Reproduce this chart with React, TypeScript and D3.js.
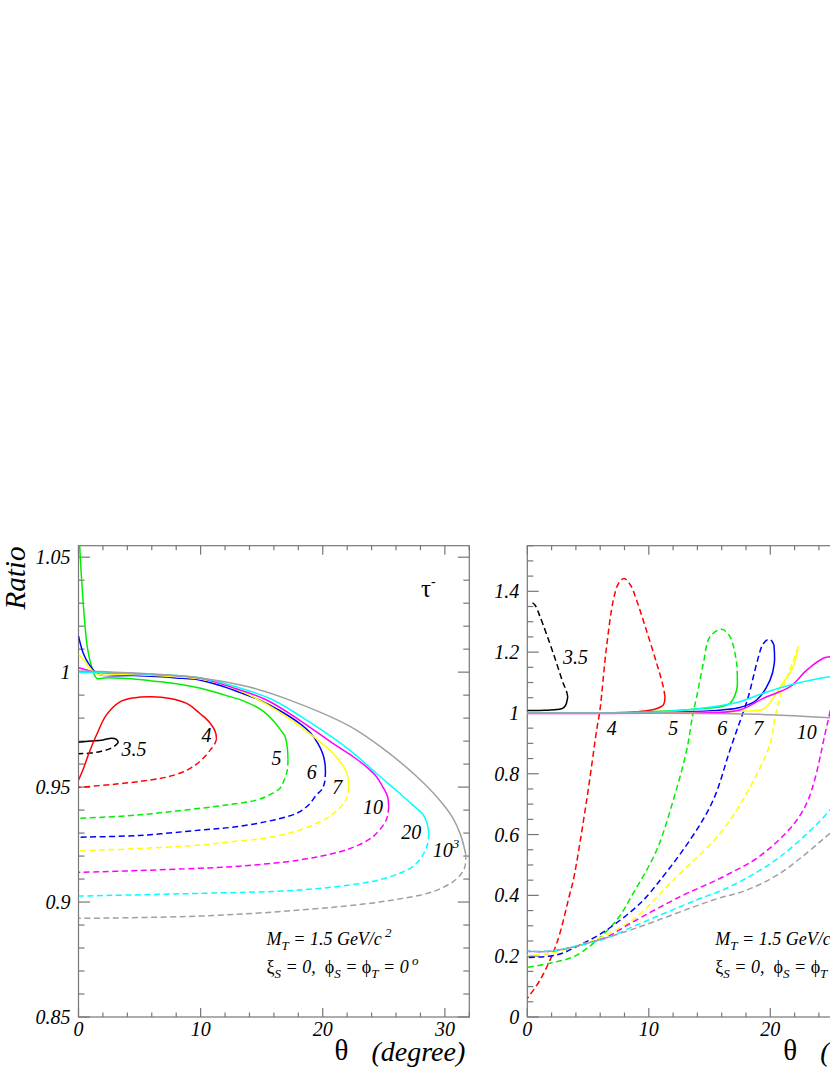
import React, { useEffect, useRef } from "react";
import * as d3 from "d3";

type Pt = [number, number];

// curve styles, in order 3.5, 4, 5, 6, 7, 10, 20, 10^3 (GeV)
const curveColors = ["#000000", "#ff0000", "#00ee00", "#0000ff", "#ffff00", "#ff00ff", "#00ffff", "#a0a0a0"];

// ---- left panel (tau-) : solid upper branch, dashed lower branch ----
const leftSolid35: Pt[] = [[0, 0.9695], [1, 0.970], [2, 0.9705], [2.7, 0.9713], [3.1, 0.9708], [3.27, 0.9695]];
const leftDash35: Pt[] = [[3.27, 0.9695], [3.0, 0.968], [2.5, 0.9665], [1.8, 0.9655], [1, 0.9648], [0, 0.9645]];
const leftSolid4: Pt[] = [[0, 0.9531], [0.4, 0.958], [0.8, 0.964], [1.5, 0.973], [2.3, 0.9815], [3.4, 0.9871], [4.5, 0.9888], [6, 0.9893], [7.5, 0.9885], [8.85, 0.9864], [9.4, 0.9845], [9.94, 0.982], [10.39, 0.980], [10.75, 0.978], [11.07, 0.9755], [11.24, 0.9734], [11.3, 0.971]];
const leftDash4: Pt[] = [[11.3, 0.971], [11.2, 0.9693], [11.02, 0.9676], [10.8, 0.9662], [10.5, 0.9642], [9.6, 0.9597], [8.6, 0.9567], [7.2, 0.9543], [5.85, 0.9531], [3.1, 0.9513], [0, 0.9499]];
const leftSolid5: Pt[] = [[0, 1.075], [0.1, 1.055], [0.26, 1.04], [0.45, 1.0256], [0.72, 1.011], [1.08, 1.0024], [1.5, 0.9973], [2.3, 0.9976], [4, 0.9972], [6, 0.9962], [8, 0.995], [10, 0.993], [12, 0.990], [13.5, 0.9875], [15, 0.9835], [15.9, 0.9792], [16.5, 0.9752], [16.9, 0.9722], [17.1, 0.967], [17.15, 0.962]];
const leftDash5: Pt[] = [[17.15, 0.962], [17.1, 0.9574], [16.8, 0.9525], [16.5, 0.9495], [15.6, 0.9465], [14.6, 0.9444], [12.5, 0.9425], [10, 0.9408], [7, 0.939], [4, 0.9375], [0, 0.9364]];
const leftSolid6: Pt[] = [[0, 1.0157], [0.39, 1.0082], [0.8, 1.0039], [1.35, 1.0002], [1.76, 0.9988], [4.5, 0.9985], [8, 0.9975], [10, 0.9965], [12, 0.9935], [13.2, 0.9912], [14.8, 0.9879], [16.5, 0.9832], [18.1, 0.9777], [19.0, 0.9735], [19.6, 0.969], [20.0, 0.9645], [20.18, 0.9604], [20.22, 0.957]];
const leftDash6: Pt[] = [[20.22, 0.957], [20.15, 0.952], [19.9, 0.9488], [19.48, 0.9466], [18.8, 0.942], [17.85, 0.9386], [15.4, 0.935], [12.5, 0.9325], [10, 0.9313], [5, 0.929], [0, 0.9282]];
const leftSolid7: Pt[] = [[0, 1.0079], [0.53, 1.0045], [1.08, 1.0009], [1.6, 0.999], [4, 0.999], [8, 0.998], [10, 0.997], [12, 0.9945], [14, 0.990], [16.2, 0.9835], [18.9, 0.9734], [20.83, 0.9647], [21.93, 0.9567], [22.14, 0.9502]];
const leftDash7: Pt[] = [[22.14, 0.9502], [21.9, 0.9444], [21.2, 0.94], [20.3, 0.9364], [18.1, 0.9313], [15.5, 0.928], [12.66, 0.9263], [9.93, 0.9248], [5, 0.9233], [0, 0.9223]];
const leftSolid10: Pt[] = [[0, 1.0019], [0.67, 1.0009], [1.4, 1.0], [4, 0.9995], [7, 0.9988], [10, 0.9973], [12.5, 0.9935], [15.4, 0.9879], [18, 0.9795], [20.83, 0.969], [22.5, 0.9632], [23.56, 0.9589], [24.4, 0.9545], [24.9, 0.9502], [25.3, 0.946], [25.4, 0.9415]];
const leftDash10: Pt[] = [[25.4, 0.9415], [25.2, 0.9357], [24.1, 0.9284], [22.8, 0.9245], [21.4, 0.9219], [18.1, 0.9183], [12.66, 0.9154], [9.93, 0.9147], [5, 0.9137], [0, 0.9129]];
const leftSolid20: Pt[] = [[0, 1.0], [2, 0.9998], [6, 0.999], [10, 0.9975], [13, 0.9935], [15.93, 0.9879], [19, 0.978], [22.2, 0.9661], [24.5, 0.9555], [26.29, 0.9473], [27.3, 0.9425], [28.2, 0.9382], [28.55, 0.934], [28.68, 0.9299]];
const leftDash20: Pt[] = [[28.68, 0.9299], [28.6, 0.9256], [28.2, 0.9205], [27.38, 0.9154], [25.8, 0.9115], [23.56, 0.9085], [18.1, 0.9052], [10, 0.9038], [0, 0.9026]];
const leftSolid1000: Pt[] = [[0, 1.0005], [5, 0.9995], [10, 0.9975], [14, 0.9935], [18.1, 0.9862], [22.2, 0.9765], [25, 0.9665], [27.65, 0.9548], [29.56, 0.9444], [30.6, 0.937], [31.3, 0.929], [31.7, 0.921]];
const leftDash1000: Pt[] = [[31.7, 0.921], [31.65, 0.9155], [31.3, 0.912], [30.65, 0.9088], [29.0, 0.9045], [24.9, 0.9002], [18.1, 0.8965], [9.93, 0.8939], [0, 0.8929]];

// ---- right panel ----
const rightSolid35: Pt[] = [[0, 1.008], [1.5, 1.009], [2.4, 1.011], [2.9, 1.015], [3.15, 1.025], [3.33, 1.053]];
const rightDash35: Pt[] = [[3.33, 1.053], [3.2, 1.075], [2.96, 1.097], [2.14, 1.196], [1.05, 1.3165], [0.63, 1.355], [0.28, 1.366]];
const rightSolid4: Pt[] = [[0, 1.0], [6, 1.0], [8.5, 1.002], [9.6, 1.006], [10.5, 1.012], [11.19, 1.026], [11.33, 1.053]];
const rightDash4: Pt[] = [[11.33, 1.053], [11.19, 1.086], [10.65, 1.163], [9.8, 1.272], [9.0, 1.37], [8.5, 1.42], [7.96, 1.442], [7.5, 1.425], [7.08, 1.371], [6.5, 1.21], [5.98, 1.01], [5.71, 0.944], [4.89, 0.714], [3.79, 0.45], [3.51, 0.407], [2.42, 0.2424], [1.05, 0.1217], [0, 0.0615]];
const rightSolid5: Pt[] = [[0, 1.0], [6, 1.0], [10, 1.004], [13, 1.01], [15, 1.016], [16, 1.021], [16.68, 1.0317], [17.23, 1.0754], [17.28, 1.119]];
const rightDash5: Pt[] = [[17.28, 1.119], [17.23, 1.163], [16.68, 1.251], [16.0, 1.275], [15.04, 1.251], [14.49, 1.163], [13.94, 1.053], [13.6, 0.99], [13.12, 0.878], [12.02, 0.714], [10.65, 0.549], [8.72, 0.407], [7.36, 0.319], [5.43, 0.242], [3.79, 0.198], [1.87, 0.177], [0, 0.163]];
const rightSolid6: Pt[] = [[0, 1.0], [10, 1.001], [14, 1.005], [16, 1.01], [17.5, 1.018], [18.88, 1.0426], [19.98, 1.108], [20.33, 1.163], [20.3, 1.2234]];
const rightDash6: Pt[] = [[20.3, 1.2234], [20.1, 1.238], [19.84, 1.242], [19.5, 1.232], [19.29, 1.218], [18.88, 1.163], [18.19, 1.053], [17.78, 1.004], [16.68, 0.878], [15.31, 0.714], [13.39, 0.582], [9.83, 0.396], [9.0, 0.363], [6.53, 0.286], [4.34, 0.237], [2.42, 0.204], [0, 0.196]];
const rightSolid7: Pt[] = [[0, 1.0], [10, 1.0], [15, 1.002], [18, 1.006], [19.4, 1.012], [20.0, 1.035], [20.82, 1.0863], [21.5, 1.125], [21.89, 1.152], [22.3, 1.218]];
const rightDash7: Pt[] = [[22.3, 1.218], [22.15, 1.2], [21.6, 1.141], [20.8, 1.053], [20.4, 0.987], [19.98, 0.898], [18.06, 0.736], [15.86, 0.604], [12.0, 0.45], [9.0, 0.33], [6.53, 0.27], [4.34, 0.237], [1.87, 0.2095], [0, 0.203]];
const rightSolid10: Pt[] = [[0, 0.998], [10, 0.999], [14, 1.0], [17.5, 1.0097], [19.42, 1.048], [21.62, 1.0863], [23.0, 1.141], [24.36, 1.18], [24.9, 1.185], [25.4, 1.19]];
const rightDash10: Pt[] = [[25.4, 1.1], [24.64, 0.955], [22.72, 0.681], [19.42, 0.538], [16.13, 0.4614], [12.57, 0.3956], [8.48, 0.308], [6.53, 0.263], [4.34, 0.236], [1.87, 0.216], [0, 0.2164]];
const rightSolid20: Pt[] = [[0, 1.0], [5, 1.0], [8.5, 1.001], [11.19, 1.004], [15.31, 1.0205], [17.5, 1.037], [19.42, 1.0646], [22.17, 1.0975], [24.91, 1.119], [25.5, 1.122]];
const rightDash20: Pt[] = [[25.5, 0.72], [24.91, 0.681], [20.8, 0.527], [16.68, 0.4285], [13.94, 0.385], [9.0, 0.3026], [6.53, 0.259], [4.34, 0.236], [1.87, 0.217], [0, 0.2164]];
const rightSolid1000: Pt[] = [[0, 1.0], [10, 0.9995], [17, 0.997], [20, 0.994], [25.5, 0.983]];
const rightDash1000: Pt[] = [[25.5, 0.625], [24.91, 0.604], [20.8, 0.4726], [18.06, 0.4177], [15.31, 0.385], [8.48, 0.286], [4.34, 0.236], [1.87, 0.216], [0, 0.216]];

// curve labels: [theta, ratio] of text baseline start
const massLabels = ["3.5", "4", "5", "6", "7", "10", "20", "10"];
const leftLabelPos: Pt[] = [[3.53, 0.9635], [10.07, 0.9696], [15.8, 0.9596], [18.68, 0.9537], [20.78, 0.947], [23.29, 0.9384], [26.43, 0.9274], [29.0, 0.9196]];
const rightLabelPos: Pt[] = [[2.94, 1.162], [6.53, 0.9265], [11.6, 0.9265], [15.64, 0.9265], [18.6, 0.9265], [22.17, 0.915]];

// axes
const xMajor = [0, 10, 20, 30];
const leftYMajor = [0.85, 0.9, 0.95, 1, 1.05];
const leftYLabels = ["0.85", "0.9", "0.95", "1", "1.05"];
const rightYMajor = [0, 0.2, 0.4, 0.6, 0.8, 1, 1.2, 1.4];
const rightYLabels = ["0", "0.2", "0.4", "0.6", "0.8", "1", "1.2", "1.4"];

const leftCurves = [
  [leftSolid35, leftDash35], [leftSolid4, leftDash4], [leftSolid5, leftDash5], [leftSolid6, leftDash6],
  [leftSolid7, leftDash7], [leftSolid10, leftDash10], [leftSolid20, leftDash20], [leftSolid1000, leftDash1000],
];
const rightCurves = [
  [rightSolid35, rightDash35], [rightSolid4, rightDash4], [rightSolid5, rightDash5], [rightSolid6, rightDash6],
  [rightSolid7, rightDash7], [rightSolid10, rightDash10], [rightSolid20, rightDash20], [rightSolid1000, rightDash1000],
];

const FONT = "'Liberation Serif', 'Times New Roman', serif";
const AXIS = "#777";
const NB = "\u00a0";

export default function App() {
  const ref = useRef<SVGSVGElement>(null);

  useEffect(() => {
    const svg = d3.select(ref.current);
    svg.selectAll("*").remove();

    const top = 545.7;
    const bottom = 1017;

    const drawPanel = (opts: any) => {
      const { x0, x1, yDomain, yMajor, yLabels, yMinorStep, curves, labelPos, id } = opts;
      const x = d3.scaleLinear().domain([0, 32]).range([x0, x1]);
      const y = d3.scaleLinear().domain(yDomain).range([bottom, top]);
      const g = svg.append("g");

      g.append("clipPath").attr("id", id)
        .append("rect").attr("x", x0).attr("y", top).attr("width", x1 - x0).attr("height", bottom - top);

      // frame
      g.append("rect")
        .attr("x", x0).attr("y", top).attr("width", x1 - x0).attr("height", bottom - top)
        .attr("fill", "none").attr("stroke", AXIS).attr("stroke-width", 1.2);

      const isMajor = (v: number, list: number[]) => list.some(m => Math.abs(m - v) < 1e-6);

      // x ticks, bottom and top
      d3.range(0, 32.001, 2).forEach(v => {
        const len = isMajor(v, xMajor) ? 9 : 4.5;
        g.append("line").attr("x1", x(v)).attr("x2", x(v)).attr("y1", bottom).attr("y2", bottom - len)
          .attr("stroke", AXIS).attr("stroke-width", 1.2);
        g.append("line").attr("x1", x(v)).attr("x2", x(v)).attr("y1", top).attr("y2", top + len)
          .attr("stroke", AXIS).attr("stroke-width", 1.2);
      });
      // y ticks, left and right
      d3.range(yDomain[0], yDomain[1] + 1e-6, yMinorStep).forEach(v => {
        const len = isMajor(v, yMajor) ? 11.5 : 6;
        g.append("line").attr("x1", x0).attr("x2", x0 + len).attr("y1", y(v)).attr("y2", y(v))
          .attr("stroke", AXIS).attr("stroke-width", 1.2);
        g.append("line").attr("x1", x1).attr("x2", x1 - len).attr("y1", y(v)).attr("y2", y(v))
          .attr("stroke", AXIS).attr("stroke-width", 1.2);
      });

      // tick labels
      xMajor.forEach(v => {
        g.append("text").attr("x", x(v)).attr("y", bottom + 19)
          .attr("text-anchor", "middle").attr("font-family", FONT).attr("font-style", "italic")
          .attr("font-size", 20).text(v);
      });
      yMajor.forEach((v: number, i: number) => {
        g.append("text").attr("x", x0 - 8).attr("y", y(v) + 7)
          .attr("text-anchor", "end").attr("font-family", FONT).attr("font-style", "italic")
          .attr("font-size", 20).text(yLabels[i]);
      });

      // curves
      const line = d3.line<Pt>().x(d => x(d[0])).y(d => y(d[1])).curve(d3.curveCatmullRom.alpha(0.5));
      const cg = g.append("g").attr("clip-path", `url(#${id})`);
      curves.forEach((c: Pt[][], i: number) => {
        cg.append("path").attr("d", line(c[0])).attr("fill", "none")
          .attr("stroke", curveColors[i]).attr("stroke-width", 1.5);
        cg.append("path").attr("d", line(c[1])).attr("fill", "none")
          .attr("stroke", curveColors[i]).attr("stroke-width", 1.5).attr("stroke-dasharray", "6,3.5");
      });

      // curve labels
      labelPos.forEach((p: Pt, i: number) => {
        const t = g.append("text").attr("x", x(p[0])).attr("y", y(p[1]))
          .attr("font-family", FONT).attr("font-style", "italic").attr("font-size", 20)
          .text(massLabels[i]);
        if (i === 7) {
          t.append("tspan").attr("dy", -9).attr("font-size", 13).text("3");
        }
      });

      // axis title
      g.append("text").attr("x", x0 + 256).attr("y", 1060)
        .attr("font-family", FONT).attr("font-size", 29).text("θ");
      g.append("text").attr("x", x0 + 293).attr("y", 1061)
        .attr("font-family", FONT).attr("font-style", "italic").attr("font-size", 28).text("(degree)");

      // parameter note
      const nx = x0 + 188;
      const t1 = g.append("text").attr("x", nx).attr("y", 945)
        .attr("font-family", FONT).attr("font-style", "italic").attr("font-size", 18);
      t1.append("tspan").text("M");
      t1.append("tspan").attr("dy", 5).attr("font-size", 13).text("T");
      t1.append("tspan").attr("dy", -5).text(" = 1.5 GeV/c");
      t1.append("tspan").attr("dy", -8).attr("font-size", 13).text(" 2");

      const t2 = g.append("text").attr("x", nx).attr("y", 973)
        .attr("font-family", FONT).attr("font-style", "italic").attr("font-size", 18);
      t2.append("tspan").attr("font-style", "normal").text("ξ");
      t2.append("tspan").attr("dy", 5).attr("font-size", 13).text("S");
      t2.append("tspan").attr("dy", -5).text(` = 0,${NB}${NB}`);
      t2.append("tspan").attr("font-style", "normal").text("ϕ");
      t2.append("tspan").attr("dy", 5).attr("font-size", 13).text("S");
      t2.append("tspan").attr("dy", -5).text(" = ");
      t2.append("tspan").attr("font-style", "normal").text("ϕ");
      t2.append("tspan").attr("dy", 5).attr("font-size", 13).text("T");
      t2.append("tspan").attr("dy", -5).text(" = 0");
      t2.append("tspan").attr("dy", -8).attr("font-size", 13).text(" o");

      return { x, y, g };
    };

    const left = drawPanel({
      x0: 78.5, x1: 469.3, yDomain: [0.85, 1.055], yMajor: leftYMajor, yLabels: leftYLabels,
      yMinorStep: 0.01, curves: leftCurves, labelPos: leftLabelPos, id: "clipL",
    });
    drawPanel({
      x0: 527.3, x1: 916.1, yDomain: [0, 1.55], yMajor: rightYMajor, yLabels: rightYLabels,
      yMinorStep: 0.05, curves: rightCurves, labelPos: rightLabelPos, id: "clipR",
    });

    // tau- tag
    const tau = left.g.append("text").attr("x", left.x(28.05)).attr("y", left.y(1.0327))
      .attr("font-family", FONT).attr("font-size", 25).text("τ");
    tau.append("tspan").attr("dy", -11).attr("font-size", 14).text("-");

    // y title
    svg.append("text").attr("transform", "translate(25,578) rotate(-90)")
      .attr("text-anchor", "middle").attr("font-family", FONT).attr("font-style", "italic")
      .attr("font-size", 29).text("Ratio");
  }, []);

  return (
    <svg ref={ref} width={830} height={1075}
      style={{ position: "absolute", left: 0, top: 0, background: "#fff" }} />
  );
}
